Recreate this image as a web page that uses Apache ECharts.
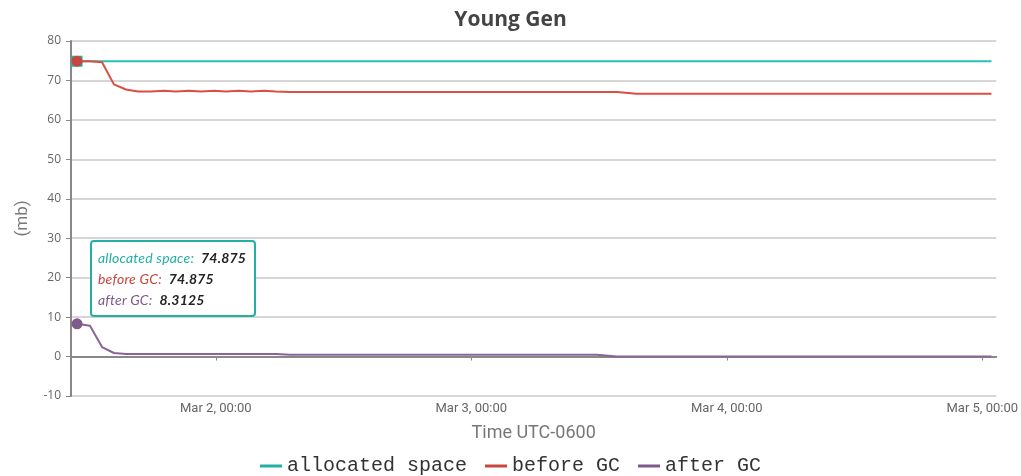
<!DOCTYPE html>
<html>
<head>
<meta charset="utf-8">
<script src="https://cdn.jsdelivr.net/npm/echarts@6/dist/echarts.min.js"></script>
<style>
  html, body { margin: 0; padding: 0; background: #fff; }
  #chart { width: 1021px; height: 476px; }
</style>
</head>
<body>
<div id="chart"></div>
<script>
// 采样时间 (本地时间)
const times = [
  "2024-03-01 10:58", "2024-03-01 12:11", "2024-03-01 13:19", "2024-03-01 14:26",
  "2024-03-01 15:34", "2024-03-01 16:41", "2024-03-01 17:55", "2024-03-01 19:08",
  "2024-03-01 20:15", "2024-03-01 21:29", "2024-03-01 22:36", "2024-03-01 23:49",
  "2024-03-02 00:57", "2024-03-02 02:10", "2024-03-02 03:18", "2024-03-02 04:31",
  "2024-03-02 05:39", "2024-03-02 06:58", "2024-03-02 17:17", "2024-03-03 11:47",
  "2024-03-03 13:40", "2024-03-03 15:32", "2024-03-04 06:50", "2024-03-05 00:52"
];
const allocatedSpace = [
  74.875, 74.875, 74.875, 74.875, 74.875, 74.875, 74.875, 74.875,
  74.875, 74.875, 74.875, 74.875, 74.875, 74.875, 74.875, 74.875,
  74.875, 74.875, 74.875, 74.875, 74.875, 74.875, 74.875, 74.875
];
const beforeGC = [
  74.875, 74.85, 74.6, 69.0, 67.7, 67.2, 67.2, 67.4,
  67.2, 67.4, 67.2, 67.4, 67.2, 67.4, 67.2, 67.4,
  67.2, 67.1, 67.1, 67.1, 67.1, 66.6, 66.6, 66.6
];
const afterGC = [
  8.3125, 7.8, 2.4, 0.9, 0.65, 0.65, 0.65, 0.65,
  0.65, 0.65, 0.65, 0.65, 0.65, 0.65, 0.65, 0.65,
  0.65, 0.45, 0.45, 0.45, 0.0, 0.0, 0.0, 0.0
];
// 坐标轴范围
const timeMin = "2024-03-01 10:24";
const timeMax = "2024-03-05 01:19";
const seriesNames = ["allocated space", "before GC", "after GC"];
const colors = ["#22b0a5", "#c8463f", "#7d5b8b"];

const pair = (vals) => vals.map((v, i) => [times[i], v]);

const chart = echarts.init(document.getElementById("chart"));

chart.setOption({
  animation: false,
  title: {
    text: "Young Gen",
    left: "center",
    top: 5,
    textStyle: { fontSize: 21, fontWeight: "bold", color: "#444", fontFamily: "Open Sans" }
  },
  grid: { left: 71, right: 24, top: 41, bottom: 80 },
  tooltip: {
    trigger: "axis",
    alwaysShowContent: true,
    axisPointer: { type: "none" },
    position: [90, 240],
    backgroundColor: "#fff",
    borderColor: colors[0],
    borderWidth: 2,
    borderRadius: 4,
    padding: [5, 8, 5, 6],
    extraCssText: "box-shadow:none;",
    formatter: (params) => params.map((p) =>
      '<div style="line-height:21px;font-family:Lato;font-size:14px;font-style:italic;letter-spacing:0.2px;">' +
      '<span style="color:' + colors[p.seriesIndex] + '">' + p.seriesName + ':</span>&nbsp;&nbsp;' +
      '<b style="color:#222;font-weight:700">' + p.value[1] + '</b></div>'
    ).join("")
  },
  legend: {
    top: 451,
    icon: "rect",
    itemWidth: 22,
    itemHeight: 3,
    itemGap: 18,
    textStyle: { fontFamily: "Liberation Mono", fontSize: 20, color: "#333" },
    data: seriesNames
  },
  xAxis: {
    type: "time",
    min: timeMin,
    max: timeMax,
    splitNumber: 3,
    minInterval: 86400000,
    maxInterval: 86400000,
    name: "Time UTC-0600",
    nameLocation: "middle",
    nameGap: 28,
    nameTextStyle: { fontSize: 18, color: "#777", fontFamily: "Roboto" },
    axisLine: { lineStyle: { color: "#888", width: 2 } },
    axisTick: { show: true, length: 4, lineStyle: { color: "#888" } },
    splitLine: { show: false },
    axisLabel: {
      color: "#666",
      fontSize: 13,
      fontFamily: "Roboto",
      fontWeight: "normal",
      margin: 6,
      formatter: (val) => echarts.time.format(val, "{MMM} {d}, {HH}:{mm}", false)
    }
  },
  yAxis: {
    type: "value",
    min: -10,
    max: 80,
    interval: 10,
    name: "(mb)",
    nameLocation: "middle",
    nameGap: 40,
    nameRotate: 90,
    nameTextStyle: { fontSize: 17, color: "#777", fontFamily: "Roboto" },
    axisLine: { show: true, lineStyle: { color: "#888", width: 2 } },
    axisTick: { show: true, length: 5, lineStyle: { color: "#888" } },
    splitLine: { lineStyle: { color: "#c8c8c8", width: 1.5 } },
    axisLabel: { color: "#666", fontSize: 12, fontFamily: "Open Sans", margin: 10 }
  },
  series: [
    {
      name: seriesNames[0],
      type: "line",
      data: pair(allocatedSpace),
      showSymbol: false,
      symbol: "rect",
      symbolSize: 10,
      itemStyle: { color: colors[0] },
      lineStyle: { width: 2 }
    },
    {
      name: seriesNames[1],
      type: "line",
      data: pair(beforeGC),
      showSymbol: false,
      symbol: "circle",
      symbolSize: 10,
      itemStyle: { color: colors[1] },
      lineStyle: { width: 2 }
    },
    {
      name: seriesNames[2],
      type: "line",
      data: pair(afterGC),
      showSymbol: false,
      symbol: "circle",
      symbolSize: 10,
      itemStyle: { color: colors[2] },
      lineStyle: { width: 2 }
    }
  ]
});

chart.dispatchAction({ type: "showTip", seriesIndex: 0, dataIndex: 0 });
</script>
</body>
</html>
